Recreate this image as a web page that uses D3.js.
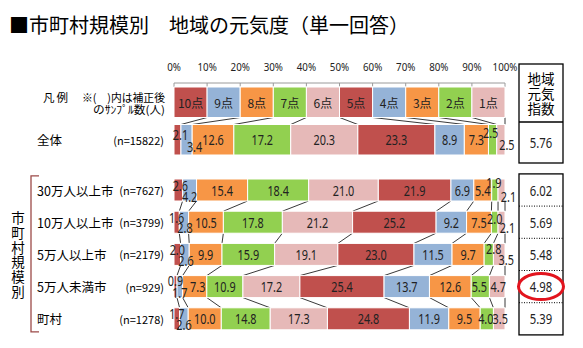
<!DOCTYPE html>
<html>
<head>
<meta charset="utf-8">
<script src="https://cdn.jsdelivr.net/npm/d3@7"></script>
<style>
  body { margin: 0; background: #fff; }
  svg { display: block; }
</style>
</head>
<body>
<svg id="chart" width="583" height="348"></svg>
<script>
// ---- data ----
const scoreLabels = ["10点", "9点", "8点", "7点", "6点", "5点", "4点", "3点", "2点", "1点"];
const tickLabels = ["0%", "10%", "20%", "30%", "40%", "50%", "60%", "70%", "80%", "90%", "100%"];
const topRows = ["凡例", "全体"];
const cityRows = ["30万人以上市", "10万人以上市", "5万人以上市", "5万人未満市", "町村"];
const sampleSizes = ["(n=15822)", "(n=7627)", "(n=3799)", "(n=2179)", "(n=929)", "(n=1278)"];
const legendValues = [10, 10, 10, 10, 10, 10, 10, 10, 10, 10];
const totalValues  = [2.1, 3.4, 12.6, 17.2, 20.3, 23.3, 8.9, 7.3, 2.5, 2.5];
const city300k     = [2.6, 4.2, 15.4, 18.4, 21.0, 21.9, 6.9, 5.4, 1.9, 2.1];
const city100k     = [1.6, 2.8, 10.5, 17.8, 21.2, 25.2, 9.2, 7.5, 2.0, 2.1];
const city50k      = [2.0, 2.6, 9.9, 15.9, 19.1, 23.0, 11.5, 9.7, 2.8, 3.5];
const cityUnder50k = [0.9, 1.7, 7.3, 10.9, 17.2, 25.4, 13.7, 12.6, 5.5, 4.7];
const townVillage  = [1.7, 2.6, 10.0, 14.8, 17.3, 24.8, 11.9, 9.5, 4.0, 3.5];
const indexValues  = [5.76, 6.02, 5.69, 5.48, 4.98, 5.39];

// ---- styles ----
const scoreColors = ["#C0504D", "#95B3D7", "#F79646", "#92D050", "#E6B9B8",
                     "#C0504D", "#95B3D7", "#F79646", "#92D050", "#E6B9B8"];
const jpFont = "'Noto Sans CJK JP', 'Noto Sans', sans-serif";
const numFont = "'Noto Sans', 'DejaVu Sans', sans-serif";
const numSize = 14.5;     // value labels
const numSquash = 0.75;   // horizontal condensing of numeric labels

// small segments get their value labels nudged off-centre [dx, dy]
const labelNudge = {
  "全体":       {0: [3, -5], 1: [8, 7], 8: [-2, -7], 9: [6, 5]},
  "30万人以上市": {0: [2, -5], 1: [0, 6], 8: [-1, -8], 9: [7, 6]},
  "10万人以上市": {0: [0, -5], 1: [1, 5], 8: [0, -4], 9: [6, 5]},
  "5万人以上市":  {0: [0, -5], 1: [1, 6], 8: [5, -6], 9: [7, 5]},
  "5万人未満市":  {0: [0, -6], 1: [0, 6], 2: [3, 0], 8: [-1, 0], 9: [1, 0]},
  "町村":        {0: [0, -5], 1: [0, 6], 8: [-1, 0], 9: [1, 0]}
};

const svg = d3.select("#chart");

// condensed numeric text, centred at (cx, cy)
function numText(parent, cx, cy, str, size, squash, fill) {
  return parent.append("text")
    .attr("transform", `translate(${cx},${cy}) scale(${squash},1)`)
    .attr("text-anchor", "middle").attr("dominant-baseline", "central")
    .style("font-family", numFont).style("font-size", size + "px")
    .attr("fill", fill || "#222")
    .text(str);
}

// rows
const rows = [
  {name: "凡例", values: legendValues},
  {name: "全体", values: totalValues},
  {name: cityRows[0], values: city300k},
  {name: cityRows[1], values: city100k},
  {name: cityRows[2], values: city50k},
  {name: cityRows[3], values: cityUnder50k},
  {name: cityRows[4], values: townVillage}
];

// scales
const x = d3.scaleLinear().domain([0, 1]).range([174, 505]);
const yTop = d3.scaleBand().domain(topRows).range([83.5, 158.5]).paddingInner(0.187).paddingOuter(0.0935);
const yCity = d3.scaleBand().domain(cityRows).range([173.9, 334.9]).paddingInner(0.317).paddingOuter(0.1585);
const rowY = name => topRows.includes(name) ? yTop(name) : yCity(name);
const rowH = name => topRows.includes(name) ? yTop.bandwidth() : yCity.bandwidth();

const stack = d3.stack()
  .keys(d3.range(10))
  .value((d, k) => d.values[k])
  .offset(d3.stackOffsetExpand);
const layers = stack(rows);

// per-row segment list
const segs = rows.map((r, ri) => layers.map((L, k) => ({
  row: r.name, k, v: r.values[k], x0: L[ri][0], x1: L[ri][1]
})));

// title
svg.append("text")
  .attr("x", 9).attr("y", 24)
  .attr("dominant-baseline", "central")
  .style("font-family", jpFont).style("font-size", "20px").attr("fill", "#000")
  .text("■市町村規模別　地域の元気度（単一回答）");

// top axis
const axisG = svg.append("g");
axisG.append("line")
  .attr("x1", x(0)).attr("x2", x(1)).attr("y1", 83).attr("y2", 83)
  .attr("stroke", "#9a9a9a");
tickLabels.forEach((t, i) => {
  const xv = x(i / 10);
  axisG.append("line").attr("x1", xv).attr("x2", xv).attr("y1", 83).attr("y2", 87)
    .attr("stroke", "#9a9a9a");
  numText(axisG, xv, 67, t, 11.5, 0.85, "#222");
});

// connector (series) lines between stacked rows
const linkPairs = [[0, 1], [2, 3], [3, 4], [4, 5], [5, 6]];
const linkG = svg.append("g");
linkPairs.forEach(([a, b]) => {
  const ya = rowY(rows[a].name) + rowH(rows[a].name);
  const yb = rowY(rows[b].name);
  for (let k = 0; k < 10; k++) {
    linkG.append("line")
      .attr("x1", x(segs[a][k].x1)).attr("y1", ya)
      .attr("x2", x(segs[b][k].x1)).attr("y2", yb)
      .attr("stroke", "#222").attr("stroke-width", 0.9);
  }
});

// bars
const barG = svg.append("g");
rows.forEach((r, ri) => {
  const y0 = rowY(r.name), h = rowH(r.name);
  const g = barG.append("g");
  g.selectAll("rect").data(segs[ri]).join("rect")
    .attr("x", d => x(d.x0)).attr("y", y0)
    .attr("width", d => x(d.x1) - x(d.x0)).attr("height", h)
    .attr("fill", d => scoreColors[d.k])
    .attr("stroke", "#fff").attr("stroke-width", 1);
  segs[ri].forEach(d => {
    const [dx, dy] = (labelNudge[r.name] || {})[d.k] || [0, 0];
    const cx = (x(d.x0) + x(d.x1)) / 2 + dx, cy = y0 + h / 2 + dy;
    if (ri === 0) {
      g.append("text").attr("x", cx).attr("y", cy)
        .attr("text-anchor", "middle").attr("dominant-baseline", "central")
        .style("font-family", jpFont).style("font-size", "12px").attr("fill", "#222")
        .text(scoreLabels[d.k]);
    } else {
      numText(g, cx, cy, d.v.toFixed(1), numSize, numSquash);
    }
  });
});

// left-side labels
const leftG = svg.append("g").style("font-family", jpFont).attr("fill", "#000");
leftG.append("text").attr("x", 43).attr("y", 97).attr("dominant-baseline", "central")
  .style("font-size", "11.5px").attr("letter-spacing", "2px").text("凡例");
leftG.append("text").attr("x", 82).attr("y", 97).attr("dominant-baseline", "central")
  .attr("textLength", 83).attr("lengthAdjust", "spacingAndGlyphs")
  .style("font-size", "11px").text("※(　)内は補正後");
leftG.append("text").attr("x", 93).attr("y", 109).attr("dominant-baseline", "central")
  .attr("textLength", 72).attr("lengthAdjust", "spacingAndGlyphs")
  .style("font-size", "11px").text("のｻﾝﾌﾟﾙ数(人)");

const labelRows = ["全体"].concat(cityRows);
labelRows.forEach((name, i) => {
  const cy = rowY(name) + rowH(name) / 2;
  leftG.append("text").attr("x", 37).attr("y", cy).attr("dominant-baseline", "central")
    .style("font-size", "12.5px").text(name);
  leftG.append("text").attr("x", 164).attr("y", cy).attr("text-anchor", "end").attr("dominant-baseline", "central")
    .style("font-size", "11px").text(sampleSizes[i]);
});

// group bracket and vertical caption
leftG.append("path")
  .attr("d", `M39,${yCity.range()[0] + 2}H31V${yCity.range()[1] - 3}H39`)
  .attr("fill", "none").attr("stroke", "#9C4A48").attr("stroke-width", 1.3);
Array.from("市町村規模別").forEach((ch, i) => {
  leftG.append("text").attr("x", 18).attr("y", 217 + i * 14.8)
    .attr("text-anchor", "middle").attr("dominant-baseline", "central")
    .style("font-size", "13.5px").text(ch);
});

// index panel
const boxX0 = 519, boxX1 = 563, boxCx = (boxX0 + boxX1) / 2;
const panel = svg.append("g");
panel.append("rect").attr("x", boxX0).attr("y", 64).attr("width", boxX1 - boxX0).attr("height", 99)
  .attr("fill", "none").attr("stroke", "#000").attr("stroke-width", 1.3);
panel.append("line").attr("x1", boxX0).attr("x2", boxX1).attr("y1", 122).attr("y2", 122)
  .attr("stroke", "#000").attr("stroke-width", 1.3);
["地域", "元気", "指数"].forEach((t, i) => {
  panel.append("text").attr("x", boxCx).attr("y", 78 + i * 15)
    .attr("text-anchor", "middle").attr("dominant-baseline", "central")
    .style("font-family", jpFont).style("font-size", "13.5px").text(t);
});
numText(panel, boxCx, 142.5, indexValues[0].toFixed(2), numSize, 0.78);

const [cy0, cy1] = yCity.range();
panel.append("rect").attr("x", boxX0).attr("y", cy0).attr("width", boxX1 - boxX0).attr("height", cy1 - cy0)
  .attr("fill", "none").attr("stroke", "#000").attr("stroke-width", 1.3);
cityRows.forEach((name, i) => {
  const top = yCity(name) - yCity.step() * yCity.paddingInner() / 2;
  if (i > 0) {
    panel.append("line").attr("x1", boxX0).attr("x2", boxX1).attr("y1", top).attr("y2", top)
      .attr("stroke", "#000").attr("stroke-width", 1).attr("stroke-dasharray", "1,1.5");
  }
  numText(panel, boxCx, yCity(name) + yCity.bandwidth() / 2, indexValues[i + 1].toFixed(2), numSize, 0.78);
});

// highlight the lowest index
const minI = d3.minIndex(indexValues.slice(1));
panel.append("ellipse")
  .attr("cx", boxCx).attr("cy", yCity(cityRows[minI]) + yCity.bandwidth() / 2)
  .attr("rx", 22.5).attr("ry", 13)
  .attr("fill", "none").attr("stroke", "#E2141E").attr("stroke-width", 3);
</script>
</body>
</html>
